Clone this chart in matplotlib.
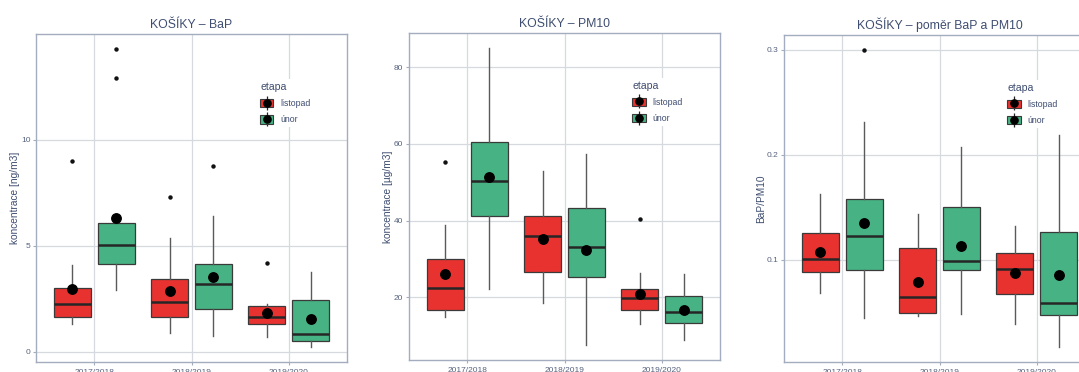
import matplotlib
matplotlib.use("Agg")
import matplotlib.pyplot as plt
from matplotlib.patches import Patch
from matplotlib.lines import Line2D
from matplotlib.legend_handler import HandlerTuple

plt.rcParams['font.family'] = ['Liberation Sans', 'DejaVu Sans']

seasons = ["2017/2018", "2018/2019", "2019/2020"]
stages = ["listopad", "únor"]
stage_colors = {"listopad": "#E8322F", "únor": "#47B384"}

# Box statistics per stage and season: (whislo, q1, med, q3, whishi, mean, fliers)
bap_listopad = [
    (1.31, 1.65, 2.24, 3.02, 4.09, 2.94, [9.0]),
    (0.87, 1.65, 2.36, 3.43, 5.35, 2.87, [7.32]),
    (0.68, 1.32, 1.65, 2.16, 2.24, 1.81, [4.2]),
]
bap_unor = [
    (2.91, 4.13, 5.04, 6.06, 6.15, 6.33, [12.9, 14.28]),
    (0.74, 2.00, 3.18, 4.13, 6.41, 3.53, [8.74]),
    (0.24, 0.52, 0.82, 2.44, 3.75, 1.53, []),
]
pm10_listopad = [
    (14.96, 16.6, 22.35, 30.0, 38.9, 26.1, [55.2]),
    (18.6, 26.6, 36.0, 41.2, 53.0, 35.2, []),
    (13.0, 16.7, 19.9, 22.1, 26.3, 20.9, [40.3]),
]
pm10_unor = [
    (22.1, 41.3, 50.4, 60.6, 85.0, 51.4, []),
    (7.57, 25.2, 33.0, 43.4, 57.4, 32.3, []),
    (8.87, 13.4, 16.3, 20.3, 26.0, 16.7, []),
]
ratio_listopad = [
    (0.0686, 0.0883, 0.101, 0.1257, 0.1625, 0.1076, []),
    (0.0463, 0.0495, 0.0651, 0.1111, 0.1438, 0.0790, []),
    (0.0394, 0.0679, 0.0917, 0.1070, 0.1324, 0.0879, []),
]
ratio_unor = [
    (0.0451, 0.0905, 0.1229, 0.1575, 0.2308, 0.1352, [0.300]),
    (0.0489, 0.0902, 0.0987, 0.1505, 0.2076, 0.1133, []),
    (0.0171, 0.0479, 0.0594, 0.1267, 0.2187, 0.0857, []),
]

titles = ["KOŠÍKY – BaP", "KOŠÍKY – PM10", "KOŠÍKY – poměr BaP a PM10"]
ylabels = ["koncentrace [ng/m3]", "koncentrace [µg/m3]", "BaP/PM10"]
yticks = [[0, 5, 10], [20, 40, 60, 80], [0.1, 0.2, 0.3]]
yticklabels = [["0", "5", "10"], ["20", "40", "60", "80"], ["0.1", "0.2", "0.3"]]
ylims = [(-0.48, 14.98), (3.68, 88.9), (0.0029, 0.314)]
panels = [
    (bap_listopad, bap_unor),
    (pm10_listopad, pm10_unor),
    (ratio_listopad, ratio_unor),
]

W, H = 1079, 372
# axes boxes in pixels: left, top, right, bottom
boxes_px = [(36, 34, 347, 362), (409, 33, 720, 360), (784, 35, 1095, 362)]
legend_x = [0.698, 0.696, 0.696]

TEXT = "#3E4D70"
TICK = "#56627E"
SPINE = "#A3ADBF"
GRID = "#D6D9DE"

fig = plt.figure(figsize=(W / 100, H / 100), dpi=100)
fig.patch.set_facecolor("white")

offsets = {"listopad": -0.225, "únor": 0.225}
box_w = 0.38

for i, (series, box) in enumerate(zip(panels, boxes_px)):
    l, t, r, b = box
    ax = fig.add_axes([l / W, (H - b) / H, (r - l) / W, (b - t) / H])
    ax.set_xlim(0.4, 3.6)
    ax.set_ylim(*ylims[i])
    ax.set_axisbelow(True)
    ax.grid(True, color=GRID, linewidth=0.9)
    for stage, data in zip(stages, series):
        stats = []
        for (wl, q1, med, q3, wh, mean, fl) in data:
            stats.append(dict(whislo=wl, q1=q1, med=med, q3=q3, whishi=wh,
                              mean=mean, fliers=fl))
        pos = [k + 1 + offsets[stage] for k in range(len(seasons))]
        ax.bxp(stats, positions=pos, widths=box_w, patch_artist=True,
               showmeans=True, showcaps=False, manage_ticks=False,
               boxprops=dict(facecolor=stage_colors[stage], edgecolor="#3a3a3a",
                             linewidth=0.9),
               medianprops=dict(color="#262626", linewidth=1.8),
               whiskerprops=dict(color="#5a5a5a", linewidth=1.0),
               flierprops=dict(marker="o", markersize=3.2,
                               markerfacecolor="#111111", markeredgecolor="none"),
               meanprops=dict(marker="o", markersize=6.8,
                              markerfacecolor="black", markeredgecolor="black"),
               zorder=3)
    ax.set_xticks([1, 2, 3])
    ax.set_xticklabels(seasons)
    ax.set_yticks(yticks[i])
    ax.set_yticklabels(yticklabels[i])
    ax.tick_params(axis="both", labelsize=6, colors=SPINE, labelcolor=TICK,
                   length=2.5, width=0.8, pad=1.5)
    ax.tick_params(axis="x", pad=2.5)
    for sp in ax.spines.values():
        sp.set_color(SPINE)
        sp.set_linewidth(1.0)
    ax.set_title(titles[i], fontsize=8.8, color=TEXT, pad=4.5)
    ax.set_ylabel(ylabels[i], fontsize=7.3, color=TEXT, labelpad=0.5)

    handles = []
    for stage in stages:
        handles.append((
            Line2D([], [], color="#222222", marker="|", markersize=10,
                   linestyle="none", markeredgewidth=0.9),
            Patch(facecolor=stage_colors[stage], edgecolor="#3a3a3a", linewidth=0.8),
            Line2D([], [], color="black", marker="o", markersize=5.2,
                   linestyle="none"),
        ))
    leg = ax.legend(handles, stages, title="etapa",
                    handler_map={tuple: HandlerTuple(ndivide=1, pad=0)},
                    loc="upper left", bbox_to_anchor=(legend_x[i], 0.875),
                    fontsize=6.3, title_fontsize=7.6, frameon=True, framealpha=1,
                    edgecolor="none", facecolor="white", handlelength=1.5,
                    handleheight=1.1, handletextpad=0.8, labelspacing=0.8,
                    borderpad=0.3, alignment="left")
    leg.get_title().set_color(TEXT)
    for txt in leg.get_texts():
        txt.set_color(TEXT)
    leg.set_zorder(5)

fig.savefig("out.png", dpi=100, facecolor="white")
